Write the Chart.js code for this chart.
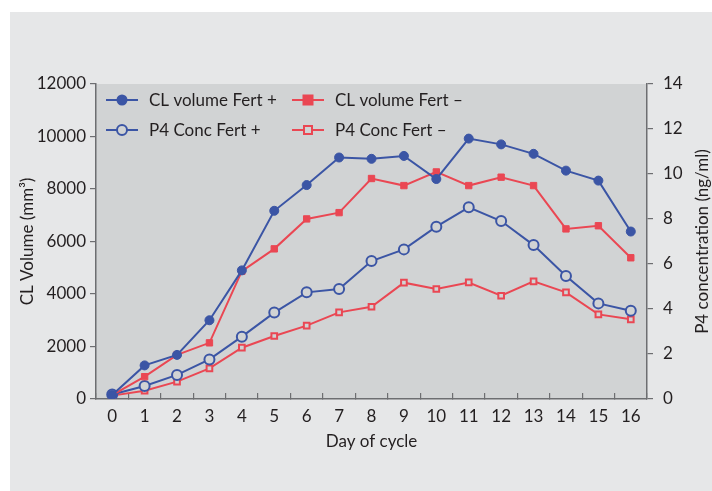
<!DOCTYPE html>
<html>
<head>
<meta charset="utf-8">
<script src="https://cdn.jsdelivr.net/npm/chart.js@4.4.1/dist/chart.umd.min.js"></script>
<style>
  html, body { margin: 0; padding: 0; background: #fff; }
  #wrap { position: absolute; left: 10px; top: 12px; width: 702px; height: 479px; background: #e6e7e8; }
</style>
</head>
<body>
<div id="wrap"><canvas id="chart" width="702" height="479"></canvas></div>
<script>
// data
const days = ['0','1','2','3','4','5','6','7','8','9','10','11','12','13','14','15','16'];
const clFertPlus  = [150, 1280, 1680, 3000, 4900, 7170, 8150, 9200, 9150, 9260, 8380, 9920, 9700, 9340, 8700, 8320, 6380];
const clFertMinus = [150, 850, 1680, 2140, 4870, 5720, 6860, 7100, 8400, 8130, 8650, 8130, 8450, 8130, 6480, 6600, 5380];
const p4FertPlus  = [0.2, 0.58, 1.07, 1.76, 2.77, 3.84, 4.74, 4.89, 6.13, 6.65, 7.66, 8.52, 7.91, 6.84, 5.47, 4.25, 3.92];
const p4FertMinus = [0.15, 0.37, 0.77, 1.36, 2.28, 2.8, 3.26, 3.85, 4.1, 5.17, 4.89, 5.18, 4.59, 5.23, 4.74, 3.76, 3.54];
const leftTicks = [0, 2000, 4000, 6000, 8000, 10000, 12000];
const rightTicks = [0, 2, 4, 6, 8, 10, 12, 14];
const rightTitle = 'P4 concentration (ng/ml)';

const BLUE = '#3b55a5';
const RED = '#ea4753';
const PLOT_BG = '#d1d3d4';
const AXIS = '#6d6e71';
const TEXT = '#231f20';
const FONT = 'Lato, "Noto Sans", sans-serif';

// gray plot area
const plotBg = {
    id: 'plotBg',
    beforeDraw(chart) {
        const a = chart.chartArea;
        const c = chart.ctx;
        c.save();
        c.fillStyle = PLOT_BG;
        c.fillRect(a.left, a.top, a.right - a.left, a.bottom - a.top);
        c.restore();
    }
};

// legend drawn inside the plot, two columns; right title reading upwards
const innerLegend = {
    id: 'innerLegend',
    afterDraw(chart) {
        const a = chart.chartArea;
        const c = chart.ctx;
        const cols = [a.left + 10, a.left + 196];
        const rows = [a.top + 16, a.top + 46];
        c.save();
        c.font = '17px ' + FONT;
        c.textBaseline = 'middle';
        chart.data.datasets.forEach((ds, i) => {
            const x = cols[i % 2];
            const y = rows[Math.floor(i / 2)];
            c.strokeStyle = ds.borderColor;
            c.lineWidth = 2;
            c.beginPath();
            c.moveTo(x, y);
            c.lineTo(x + 32, y);
            c.stroke();
            const mx = x + 16;
            c.fillStyle = ds.pointBackgroundColor;
            c.strokeStyle = ds.borderColor;
            if (ds.pointStyle === 'circle') {
                c.beginPath();
                c.arc(mx, y, ds.pointRadius, 0, Math.PI * 2);
                c.fill();
                c.stroke();
            } else {
                const r = ds.pointRadius;
                c.fillRect(mx - r, y - r, 2 * r, 2 * r);
                c.strokeRect(mx - r, y - r, 2 * r, 2 * r);
            }
            c.fillStyle = TEXT;
            c.fillText(ds.label, x + 43, y + 1);
        });

        c.translate(chart.width - 9, (a.top + a.bottom) / 2);
        c.rotate(-Math.PI / 2);
        c.textAlign = 'center';
        c.fillStyle = TEXT;
        c.fillText(rightTitle, 0, 0);
        c.restore();
    }
};

const tickFont = { family: FONT, size: 17 };

const ctx = document.getElementById('chart').getContext('2d');
const chart = new Chart(ctx, {
    type: 'line',
    data: {
        labels: days,
        datasets: [
            {
                label: 'CL volume Fert +',
                data: clFertPlus,
                yAxisID: 'y',
                borderColor: BLUE,
                backgroundColor: BLUE,
                pointBackgroundColor: BLUE,
                pointStyle: 'circle',
                pointRadius: 4.5,
                pointBorderWidth: 1
            },
            {
                label: 'CL volume Fert \u2013',
                data: clFertMinus,
                yAxisID: 'y',
                borderColor: RED,
                backgroundColor: RED,
                pointBackgroundColor: RED,
                pointStyle: 'rect',
                pointRadius: 4.5,
                pointBorderWidth: 1
            },
            {
                label: 'P4 Conc Fert +',
                data: p4FertPlus,
                yAxisID: 'y1',
                borderColor: BLUE,
                backgroundColor: PLOT_BG,
                pointBackgroundColor: PLOT_BG,
                pointStyle: 'circle',
                pointRadius: 5,
                pointBorderWidth: 2
            },
            {
                label: 'P4 Conc Fert \u2013',
                data: p4FertMinus,
                yAxisID: 'y1',
                borderColor: RED,
                backgroundColor: PLOT_BG,
                pointBackgroundColor: PLOT_BG,
                pointStyle: 'rect',
                pointRadius: 4,
                pointBorderWidth: 2
            }
        ]
    },
    options: {
        responsive: false,
        animation: false,
        layout: { padding: { top: 72, left: 0, right: 0, bottom: 39 } },
        elements: { line: { borderWidth: 2, tension: 0 } },
        plugins: { legend: { display: false }, tooltip: { enabled: false } },
        scales: {
            x: {
                offset: true,
                grid: { offset: true, drawOnChartArea: false, color: AXIS, tickLength: -6, lineWidth: 1.2 },
                border: { color: AXIS, width: 1.5 },
                ticks: { color: TEXT, font: tickFont, padding: 13, maxRotation: 0, autoSkip: false },
                title: { display: true, text: 'Day of cycle', color: TEXT, font: tickFont, padding: { top: 0, bottom: 0 } },
                afterFit(s) { s.height = 53; }
            },
            y: {
                position: 'left',
                min: 0, max: 12000,
                afterBuildTicks(s) { s.ticks = leftTicks.map(v => ({ value: v })); },
                grid: { drawOnChartArea: false, color: AXIS, tickLength: 6, lineWidth: 1.2 },
                border: { color: AXIS, width: 1.5 },
                ticks: { color: TEXT, font: tickFont, padding: 4, callback: v => String(v) },
                title: { display: true, text: 'CL Volume (mm\u00b3)', color: TEXT, font: tickFont, padding: { top: 7, bottom: 4 } },
                afterFit(s) { s.width = 86; }
            },
            y1: {
                position: 'right',
                min: 0, max: 14,
                afterBuildTicks(s) { s.ticks = rightTicks.map(v => ({ value: v })); },
                grid: { drawOnChartArea: false, color: AXIS, tickLength: 6, lineWidth: 1.2 },
                border: { color: AXIS, width: 1.5 },
                ticks: { color: TEXT, font: tickFont, padding: 10, callback: v => String(v) },
                afterFit(s) { s.width = 65; }
            }
        }
    },
    plugins: [plotBg, innerLegend]
});
</script>
</body>
</html>
